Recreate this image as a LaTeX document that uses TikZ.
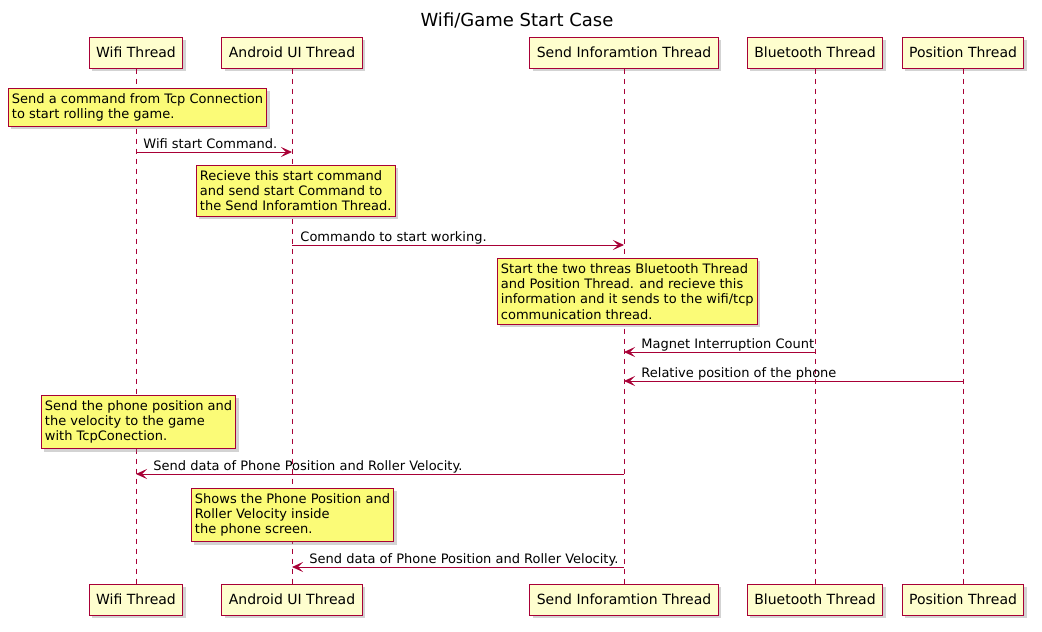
\documentclass[tikz,border=0pt]{standalone}
\usepackage{fontspec}
\setmainfont{DejaVu Sans}
\usetikzlibrary{arrows.meta,shadows}
\definecolor{linered}{HTML}{A80036}
\definecolor{threadfill}{HTML}{FEFECE}
\definecolor{notefill}{HTML}{FBFB77}
\begin{document}
\begin{tikzpicture}[x=1pt, y=-1pt,
    thread/.style={draw=linered, fill=threadfill, line width=1pt, minimum height=31pt, inner xsep=7pt, font=\fontsize{14}{16}\selectfont, drop shadow={opacity=0.35, shadow xshift=3pt, shadow yshift=-3pt}},
    note/.style={draw=linered, fill=notefill, line width=0.9pt, anchor=north west, align=left, inner xsep=3.5pt, inner ysep=5pt, font=\fontsize{13}{15.3}\selectfont, drop shadow={opacity=0.35, shadow xshift=3pt, shadow yshift=-3pt}},
    msg/.style={draw=linered, line width=0.9pt, -{Stealth[length=11pt, width=10pt, inset=5pt]}},
    msglabel/.style={font=\fontsize{13}{15}\selectfont, inner sep=0pt, anchor=base west},
    life/.style={draw=linered, line width=0.9pt, dash pattern=on 5pt off 5pt}]
            \useasboundingbox (0,0) rectangle (1042,632);
            \node[font=\fontsize{18}{20}\selectfont] (title) at (517,20) {Wifi/Game Start Case};
            % threads, top and bottom
            \node[thread] (wifi) at (136,52.5) {Wifi Thread};
            \node[thread] (android) at (292,52.5) {Android UI Thread};
            \node[thread] (sendinfo) at (624,52.5) {Send Inforamtion Thread};
            \node[thread] (bluetooth) at (815,52.5) {Bluetooth Thread};
            \node[thread] (position) at (963,52.5) {Position Thread};
            \node[thread] (wifib) at (136,599.5) {Wifi Thread};
            \node[thread] (androidb) at (292,599.5) {Android UI Thread};
            \node[thread] (sendinfob) at (624,599.5) {Send Inforamtion Thread};
            \node[thread] (bluetoothb) at (815,599.5) {Bluetooth Thread};
            \node[thread] (positionb) at (963,599.5) {Position Thread};
            % lifelines
            \foreach \t in {wifi, android, sendinfo, bluetooth, position}
                \draw[life] (\t.south) -- (\t b.north);
            % notes
            \node[note] (note1) at (8,88) {Send a command from Tcp Connection\\to start rolling the game.};
            \node[note] (note2) at (196,165) {Recieve this start command\\and send start Command to\\the Send Inforamtion Thread.};
            \node[note] (note3) at (497,258) {Start the two threas Bluetooth Thread\\and Position Thread. and recieve this\\information and it sends to the wifi/tcp\\communication thread.};
            \node[note] (note4) at (41,395) {Send the phone position and\\the velocity to the game\\with TcpConection.};
            \node[note] (note5) at (191,488) {Shows the Phone Position and\\Roller Velocity inside\\the phone screen.};
            % messages
            \draw[msg] (wifi |- 0,152) -- (android |- 0,152) node[msglabel, pos=0, xshift=7pt, yshift=4pt] (m1) {Wifi start Command.};
            \draw[msg] (android |- 0,245) -- (sendinfo |- 0,245) node[msglabel, pos=0, xshift=8pt, yshift=4pt] (m2) {Commando to start working.};
            \draw[msg] (bluetooth |- 0,352) -- (sendinfo |- 0,352) node[msglabel, pos=1, xshift=17pt, yshift=4pt] (m3) {Magnet Interruption Count};
            \draw[msg] (position |- 0,381) -- (sendinfo |- 0,381) node[msglabel, pos=1, xshift=17pt, yshift=4pt] (m4) {Relative position of the phone};
            \draw[msg] (sendinfo |- 0,474) -- (wifi |- 0,474) node[msglabel, pos=1, xshift=17pt, yshift=4pt] (m5) {Send data of Phone Position and Roller Velocity.};
            \draw[msg] (sendinfo |- 0,567) -- (android |- 0,567) node[msglabel, pos=1, xshift=17pt, yshift=4pt] (m6) {Send data of Phone Position and Roller Velocity.};
      \end{tikzpicture}
\end{document}
